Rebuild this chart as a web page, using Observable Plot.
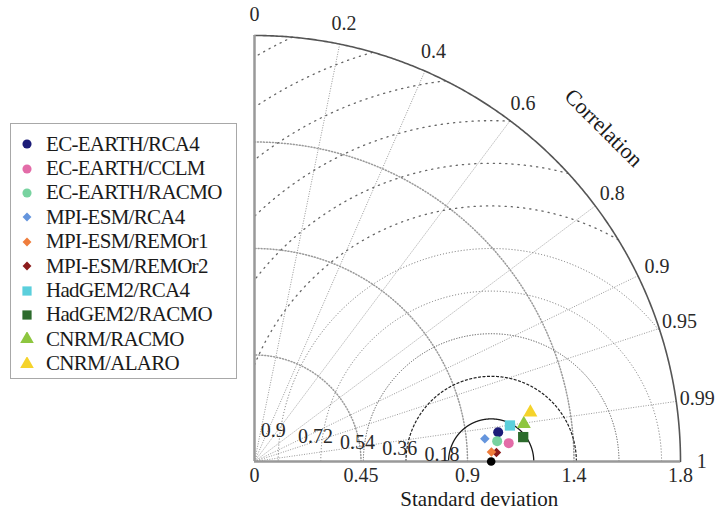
<!DOCTYPE html>
<html><head><meta charset="utf-8">
<script src="https://cdn.jsdelivr.net/npm/d3@7"></script>
<script src="https://cdn.jsdelivr.net/npm/@observablehq/plot@0.6"></script>
<style>
body{margin:0;background:#fff;font-family:"Liberation Serif","Times New Roman",serif;}
#wrap{display:flex;align-items:flex-start;width:718px;height:519px;overflow:hidden;}
#legend{box-sizing:border-box;margin-left:10px;margin-top:123px;margin-right:3px;width:227px;height:256px;border:1.5px solid #a8a8a8;padding-top:8px;}
.row{display:flex;align-items:center;height:24.4px;font-size:21px;letter-spacing:-0.7px;color:#1a1a1a;white-space:nowrap;}
.row svg{margin-left:9px;margin-right:12px;flex:none;}
</style></head>
<body><div id="wrap"><div id="legend"></div><div id="chart"></div></div>
<script>
// ---- data ----
const models = ["EC-EARTH/RCA4","EC-EARTH/CCLM","EC-EARTH/RACMO","MPI-ESM/RCA4","MPI-ESM/REMOr1","MPI-ESM/REMOr2","HadGEM2/RCA4","HadGEM2/RACMO","CNRM/RACMO","CNRM/ALARO"];
const modelColors = ["#1c1c78","#e36ca8","#78d3a0","#6595dd","#ef7d3c","#8c1c1c","#5bcfdc","#2c6b2c","#8dc63f","#f5d32b"];
const modelSymbols = ["circle","circle","circle","diamond2","diamond2","diamond2","square","square","triangle","triangle"];
const modelStd = [1.037,1.077,1.029,0.978,1.002,1.023,1.090,1.140,1.149,1.184];
const modelCorr = [0.9929,0.9974,0.9965,0.9952,0.9992,0.9993,0.9902,0.9959,0.9904,0.9845];
const refStd = 1.0;
const stdMax = 1.8;
const stdGrid = [0.45,0.9,1.35];
const stdTicks = [0,0.45,0.9,1.35,1.8];
const stdTickLabels = ["0","0.45","0.9","1.4","1.8"];
const corrTicks = [0,0.2,0.4,0.6,0.8,0.9,0.95,0.99,1];
const rmsArcs = [0.18,0.36,0.54,0.72,0.9,1.08,1.26,1.44,1.62,1.8,1.98];
const rmsLabels = [0.18,0.36,0.54,0.72,0.9];

// ---- derived geometry ----
const deg = Math.PI/180;
const quarter = d3.range(0,90.25,0.25).map(a=>a*deg);
const stdArcPts = stdGrid.flatMap(r=>quarter.map(t=>({r,x:r*Math.cos(t),y:r*Math.sin(t)})));
const outerPts = quarter.map(t=>({x:stdMax*Math.cos(t),y:stdMax*Math.sin(t)}));
function rmsArc(r){const pts=[];const n=2000;for(let i=0;i<=n;i++){const t=Math.PI*i/n;const x=refStd+r*Math.cos(t),y=r*Math.sin(t);if(x>=0&&x*x+y*y<=stdMax*stdMax+1e-9)pts.push({r,x,y});}return pts;}
const rmsStyle = r => r<0.2?{stroke:"#1a1a1a",dash:null,w:1.3,cap:"butt"}
  : r<0.4?{stroke:"#222",dash:"3,1.5",w:1.2,cap:"butt"}
  : r<0.6?{stroke:"#444",dash:"1.2,1.5",w:1,cap:"butt"}
  : r<1?{stroke:"#666",dash:"1,2",w:1,cap:"butt"}
  : {stroke:"#666",dash:"1.2,5",w:1.3,cap:"round"};
const rmsMarks = rmsArcs.map(r=>{const s=rmsStyle(r);return Plot.line(rmsArc(r),{x:"x",y:"y",stroke:s.stroke,strokeWidth:s.w,strokeDasharray:s.dash,strokeLinecap:s.cap});});

const pts = models.map((m,i)=>({name:m,color:modelColors[i],sym:modelSymbols[i],x:modelStd[i]*modelCorr[i],y:modelStd[i]*Math.sqrt(1-modelCorr[i]**2)}));
const order = [0,1,2,3,5,4,6,7,8,9];
const symR = {circle:5,diamond2:4.3,square:5.8,triangle:5.2};
const dotMarks = order.map(i=>Plot.dot([pts[i]],{x:"x",y:"y",symbol:pts[i].sym,fill:pts[i].color,r:symR[pts[i].sym]}));

const lblR = 1.89;
const ang = 172*deg;

const chart = Plot.plot({
  width:478,height:519,
  marginLeft:14,marginRight:38,marginTop:35,marginBottom:58,
  x:{domain:[0,stdMax],axis:null},
  y:{domain:[0,stdMax],axis:null},
  style:{fontFamily:"Liberation Serif, Times New Roman, serif",fontSize:"20px",background:"white",overflow:"visible"},
  marks:[
    Plot.link(corrTicks.filter(c=>c>0&&c<1),{x1:0,y1:0,x2:c=>stdMax*c,y2:c=>stdMax*Math.sqrt(1-c*c),stroke:"#999",strokeDasharray:"1,1.5"}),
    Plot.line(stdArcPts,{x:"x",y:"y",z:"r",stroke:"#9a9a9a",strokeDasharray:"1,2"}),
    ...rmsMarks,
    Plot.line(outerPts,{x:"x",y:"y",stroke:"#555",strokeWidth:1.6}),
    Plot.ruleX([0],{y1:0,y2:stdMax,stroke:"#999",strokeWidth:2.5}),
    Plot.ruleY([0],{x1:0,x2:stdMax,stroke:"#999",strokeWidth:2.5}),
    Plot.text(stdTicks,{x:d=>d,y:0,text:(d,i)=>stdTickLabels[i],dy:14,fontSize:20,fill:"#2a2a2a"}),
    Plot.text(["Standard deviation"],{x:0.95,y:0,dy:38,fontSize:21,fill:"#1a1a1a"}),
    Plot.text(corrTicks,{x:c=>lblR*c,y:c=>lblR*Math.sqrt(1-c*c),text:c=>String(c),fontSize:20,fill:"#2a2a2a"}),
    Plot.text(["Correlation"],{x:2.04*Math.cos(43.7*deg),y:2.04*Math.sin(43.7*deg),rotate:45,fontSize:22,fill:"#1a1a1a"}),
    Plot.text(rmsLabels,{x:r=>refStd+(r+0.03)*Math.cos(ang),y:r=>(r+0.03)*Math.sin(ang),text:r=>String(r),fontSize:20,fill:"#2a2a2a"}),
    ...dotMarks,
    Plot.dot([refStd],{x:d=>d,y:0,fill:"black",r:4.3})
  ]
});
document.getElementById("chart").appendChild(chart);

// ---- legend ----
const legSize = {circle:65,diamond2:50,square:85,triangle:80};
const symMap = {circle:d3.symbolCircle,diamond2:d3.symbolDiamond2,square:d3.symbolSquare,triangle:d3.symbolTriangle};
const leg = d3.select("#legend");
models.forEach((m,i)=>{
  const row = leg.append("div").attr("class","row");
  const s = row.append("svg").attr("width",14).attr("height",14);
  s.append("path").attr("transform","translate(7,7)").attr("d",d3.symbol(symMap[modelSymbols[i]],legSize[modelSymbols[i]])()).attr("fill",modelColors[i]);
  row.append("span").text(m);
});
</script></body></html>
